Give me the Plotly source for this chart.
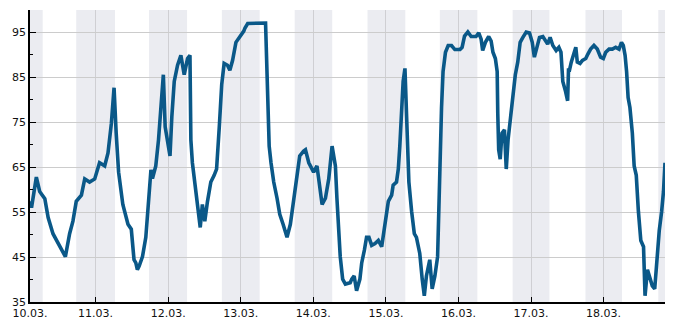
import pandas as pd
import plotly.graph_objects as go

# Time (hours since 10.03. 00:00) and relative humidity (%)
hours = [2.3, 2.8, 4.4, 5.5, 7.2, 8.3, 9.9, 11.6, 12.7, 14.0, 15.4, 16.5, 17.6, 19.3, 20.4, 22.0, 23.7,
         25.3, 27.0, 28.1, 29.2, 30.1, 30.8, 31.6, 33.0, 34.7, 35.8, 36.7, 37.3, 37.8, 38.4, 39.5,
         40.6, 41.2, 41.7, 42.3, 42.8, 43.9, 44.8, 45.6, 46.4, 47.0, 47.8, 48.6, 49.2, 50.0, 51.1,
         52.2, 53.3, 54.4, 55.2, 55.5, 56.0, 56.9, 57.7, 58.6, 59.3, 60.1, 61.0, 62.1, 63.2, 64.0,
         64.9, 65.7, 66.5, 67.6, 68.4, 69.3, 70.4, 72.0, 73.0, 73.4, 74.3, 80.2, 80.5, 80.9, 81.4,
         82.0, 82.9, 84.0, 84.9, 86.0, 87.3, 88.4, 89.5, 90.6, 91.5, 92.8, 93.4, 94.5, 96.1, 97.2,
         98.1, 98.9, 100.0, 101.1, 102.2, 103.3, 103.8, 104.4, 104.9, 105.7, 106.6, 108.2, 108.7,
         109.5, 110.3, 111.4, 112.0, 112.9, 113.6, 114.4, 115.3, 116.4, 117.5, 118.6, 119.3, 120.0,
         120.8, 121.9, 122.4, 123.5, 124.1, 124.6, 125.2, 125.7, 126.3, 126.6, 127.1, 127.6, 128.5,
         129.4, 130.1, 131.2, 132.0, 132.7, 133.4, 134.5, 135.3, 136.2, 137.1, 137.5, 137.8, 138.4,
         138.9, 139.7, 140.6, 141.7, 142.8, 144.5, 145.2, 146.0, 147.1, 148.2, 149.8, 150.7, 151.5,
         152.0, 152.9, 154.0, 154.8, 155.4, 156.2, 156.8, 157.0, 157.3, 157.8, 158.4, 159.2, 159.8,
         160.4, 161.1, 162.0, 162.8, 163.6, 164.4, 165.3, 166.4, 167.5, 168.4, 169.1, 169.9, 170.8,
         171.9, 173.0, 173.5, 174.3, 175.2, 176.3, 177.2, 177.9, 178.5, 179.4, 180.1, 180.4, 180.6,
         181.3, 182.2, 182.8, 183.3, 184.2, 185.0, 186.1, 186.8, 187.7, 188.8, 189.9, 191.0, 191.9,
         192.7, 193.8, 194.9, 196.0, 197.1, 197.9, 198.5, 199.1, 199.6, 200.1, 200.7, 201.5, 202.1,
         202.8, 203.5, 204.3, 205.2, 205.7, 206.5, 207.4, 208.1, 208.9, 209.6, 210.4, 211.2, 211.8,
         212.3]
humidity = [57.4, 56.0, 62.8, 59.6, 58.0, 53.8, 50.2, 48.0, 46.6, 45.1, 50.2, 53.0, 57.4, 58.8, 62.4, 61.7, 62.4,
            66.0, 65.3, 68.2, 74.7, 82.7, 72.6, 63.9, 56.7, 52.3, 51.2, 44.4, 43.7, 42.2, 43.0, 45.1,
            49.4, 54.5, 61.0, 64.4, 62.5, 65.3, 71.1, 77.6, 85.6, 74.0, 71.1, 67.5, 76.2, 84.1, 87.7,
            89.9, 85.6, 89.2, 89.9, 71.1, 66.0, 61.0, 55.2, 51.6, 56.7, 53.0, 57.4, 61.7, 63.2, 64.6,
            74.0, 83.4, 88.1, 87.7, 86.6, 88.8, 92.8, 94.2, 95.3, 96.0, 97.0, 97.1, 89.2, 78.3, 69.7,
            66.0, 61.7, 58.1, 54.5, 52.3, 49.4, 52.3, 57.4, 62.4, 67.5, 68.6, 68.9, 66.0, 63.9, 65.3,
            61.0, 56.7, 58.1, 62.4, 69.7, 65.3, 58.1, 50.9, 45.1, 40.1, 39.0, 39.3, 40.1,
            40.8, 37.5, 40.1, 43.7, 46.6, 49.4, 49.4, 47.6, 48.0, 48.7, 47.3, 50.2, 53.8,
            57.4, 58.8, 61.0, 61.7, 64.6, 69.7, 78.3, 84.1, 87.0, 81.9, 69.7, 61.7, 55.2,
            50.2, 49.4, 45.8, 40.1, 36.4, 40.8, 44.4, 37.9, 40.8, 45.1, 55.2, 67.5, 78.3,
            86.3, 90.6, 92.1, 92.1, 91.2, 91.2, 91.7, 94.2, 95.1, 94.1, 94.1, 94.9, 93.5,
            91.0, 92.8, 94.1, 93.1, 90.6, 89.2, 86.3, 76.9, 68.9, 66.8, 72.6, 73.3, 64.6,
            71.1, 75.4, 81.2, 85.6, 88.4, 92.8, 93.9, 95.1, 94.9, 92.8, 89.5, 91.3, 93.9,
            94.1, 93.1, 92.4, 93.9, 92.1, 91.0, 91.7, 90.6, 84.1, 81.9, 79.8, 87.0, 86.3,
            88.4, 90.6, 91.7, 88.4, 88.1, 88.8, 89.2, 90.2, 91.3, 92.1, 91.3, 89.5, 89.2,
            90.6, 91.3, 91.3, 91.7, 91.3, 92.8, 92.1, 89.9, 86.3, 80.5, 78.3, 72.6, 65.3,
            63.2, 55.2, 48.7, 47.3, 36.4, 42.2, 40.1, 38.6, 37.9, 45.1, 50.9, 55.2, 59.6,
            66.0]

# Night periods (shaded), as timestamps
night_start = ["2024-03-09 17:40", "2024-03-10 17:35", "2024-03-11 17:40", "2024-03-12 17:45",
               "2024-03-13 17:50", "2024-03-14 17:55", "2024-03-15 17:50", "2024-03-16 17:55",
               "2024-03-17 18:00", "2024-03-18 18:05"]
night_end = ["2024-03-10 06:30", "2024-03-11 06:25", "2024-03-12 06:15", "2024-03-13 06:15",
             "2024-03-14 06:15", "2024-03-15 06:25", "2024-03-16 06:15", "2024-03-17 06:05",
             "2024-03-18 06:05", "2024-03-19 06:00"]

tick_dates = ["2024-03-10 02:18", "2024-03-11", "2024-03-12", "2024-03-13", "2024-03-14",
              "2024-03-15", "2024-03-16", "2024-03-17", "2024-03-18"]
tick_labels = ["10.03.", "11.03.", "12.03.", "13.03.", "14.03.", "15.03.", "16.03.", "17.03.", "18.03."]

x_start = "2024-03-10 02:18"
x_end = "2024-03-18 20:18"

base = pd.Timestamp("2024-03-10")
times = [base + pd.Timedelta(hours=h) for h in hours]

fig = go.Figure()
fig.add_trace(go.Scatter(x=times, y=humidity, mode="lines",
                         line=dict(color="#0a5888", width=3.6), hoverinfo="x+y",
                         showlegend=False))

for s, e in zip(night_start, night_end):
    fig.add_shape(type="rect", xref="x", yref="paper", x0=s, x1=e, y0=0, y1=1,
                  fillcolor="#ebecf1", line=dict(width=0), layer="below")

font = dict(family="DejaVu Sans, sans-serif", size=11, color="#111111")

fig.update_layout(
    width=685, height=330,
    margin=dict(l=30, r=20, t=10, b=20),
    paper_bgcolor="white", plot_bgcolor="white",
    font=font,
    xaxis=dict(range=[x_start, x_end], tickmode="array", tickvals=tick_dates, ticktext=tick_labels,
               showgrid=True, gridcolor="#cfcfd3", gridwidth=1,
               ticks="inside", ticklen=5, tickcolor="black",
               showline=True, linecolor="black", linewidth=1.5,
               zeroline=False, tickfont=font),
    yaxis=dict(range=[35, 100], tick0=35, dtick=10,
               showgrid=True, gridcolor="#cccccc", gridwidth=1,
               ticks="inside", ticklen=6, tickcolor="black",
               showline=True, linecolor="black", linewidth=1.5,
               zeroline=False, tickfont=font,
               minor=dict(tick0=40, dtick=10, ticks="inside", ticklen=3, tickcolor="black",
                          showgrid=False)),
)

fig.write_html("out.html")
